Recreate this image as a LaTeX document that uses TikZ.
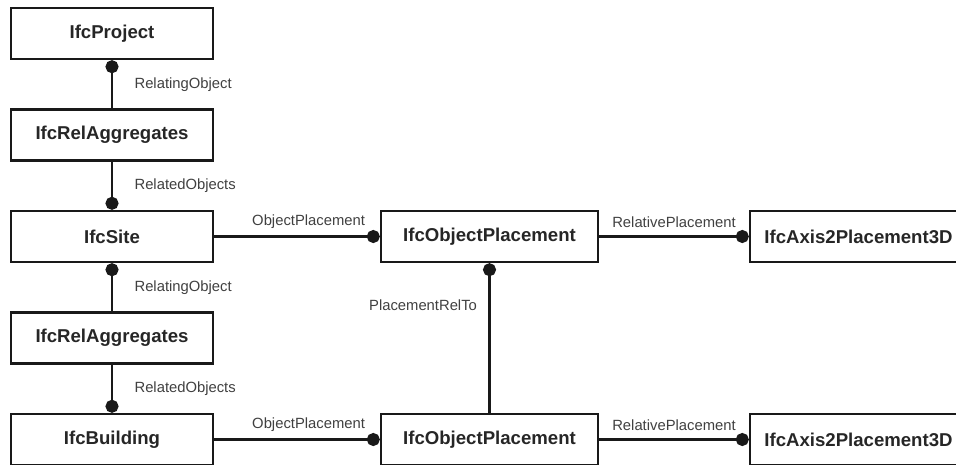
\documentclass[tikz,border=0pt]{standalone}
\usepackage{fontspec}
\setmainfont{Liberation Sans}
\usetikzlibrary{positioning,arrows.meta}

\begin{document}
\begin{tikzpicture}[x=1pt,y=1pt,node distance=101.5pt,font=\fontsize{14.8}{16}\selectfont]

    % Define node styles
    \tikzstyle{entity_block} = [draw=black!90, line width=2.4pt, minimum width=202pt, minimum height=51pt, inner sep=0pt, font=\fontsize{18.6}{20}\selectfont\bfseries, text=black!85, text centered]
    \tikzstyle{placement_block} = [entity_block, minimum width=217pt]
    \tikzstyle{dot_start} = [{Circle[length=13pt]}-, black!90, line width=2.5pt]
    \tikzstyle{dot_end} = [-{Circle[length=13pt]}, black!90, line width=2.5pt]
    \tikzstyle{attr_label} = [text=black!75]

    \useasboundingbox (0,0) rectangle (956,-464);
    \clip (0,0) rectangle (956,-464);

    % Draw nodes
    \node [entity_block] (project) at (112,-33.5) {IfcProject};
    \node [entity_block, below of=project] (aggregates_1) {IfcRelAggregates};
    \node [entity_block, below of=aggregates_1] (site) {IfcSite};
    \node [entity_block, below of=site] (aggregates_2) {IfcRelAggregates};
    \node [entity_block, below of=aggregates_2] (building) {IfcBuilding};

    \node [placement_block, right of=site, xshift=276pt] (placement_1) {IfcObjectPlacement};
    \node [placement_block, right of=placement_1, xshift=267.5pt] (axis_1) {IfcAxis2Placement3D};
    \node [placement_block, right of=building, xshift=276pt] (placement_2) {IfcObjectPlacement};
    \node [placement_block, right of=placement_2, xshift=267.5pt] (axis_2) {IfcAxis2Placement3D};

    % Draw connectors
    \draw [dot_start] (project.south) --node[attr_label, midway, right, xshift=18pt] {RelatingObject} (aggregates_1.north);
    \draw [dot_end] (aggregates_1.south) --node[attr_label, midway, right, xshift=18pt] {RelatedObjects} (site.north);
    \draw [dot_start] (site.south) --node[attr_label, midway, right, xshift=18pt] {RelatingObject} (aggregates_2.north);
    \draw [dot_end] (aggregates_2.south) --node[attr_label, midway, right, xshift=18pt] {RelatedObjects} (building.north);

    \draw [dot_end] (site.east) --node[attr_label, pos=.57, above, yshift=3pt] {ObjectPlacement} (placement_1.west);
    \draw [dot_end] (building.east) --node[attr_label, pos=.57, above, yshift=3pt] {ObjectPlacement} (placement_2.west);

    \draw [dot_end] (placement_1.east) --node[attr_label, midway, above, yshift=4pt] {RelativePlacement} (axis_1.west);
    \draw [dot_end] (placement_2.east) --node[attr_label, midway, above, yshift=4pt] {RelativePlacement} (axis_2.west);

    \draw [dot_start] (placement_1.south) --node[attr_label, pos=.28, left, xshift=-8pt] {PlacementRelTo} (placement_2.north);
\end{tikzpicture}
\end{document}
